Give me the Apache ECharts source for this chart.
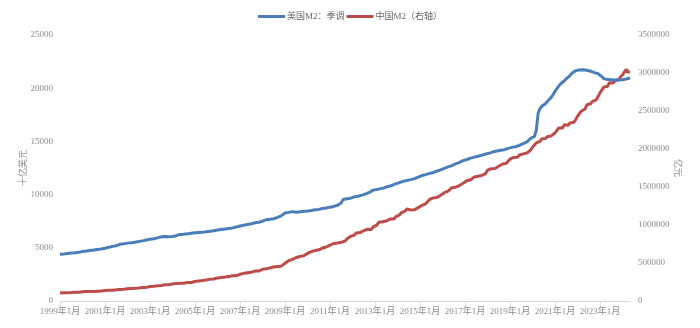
<!DOCTYPE html>
<html>
<head>
<meta charset="utf-8">
<script src="https://cdn.jsdelivr.net/npm/echarts@6/dist/echarts.min.js"></script>
<style>
  html, body { margin: 0; padding: 0; background: #fff; }
  #main { width: 700px; height: 328px; }
</style>
</head>
<body>
<div id="main"></div>
<script>
// 月份：1999年1月 - 2024年5月
var startYear = 1999, endYear = 2024, endMonth = 5;
var months = [];
for (var y = startYear; y <= endYear; y++) {
  for (var m = 1; m <= 12; m++) {
    if (y === endYear && m > endMonth) break;
    months.push(y + '年' + m + '月');
  }
}

// 美国M2：季调（十亿美元）
var usM2 = [
  4404, 4418, 4427, 4450, 4472, 4490, 4505, 4522, 4537, 4557, 4583, 4629,
  4650, 4668, 4695, 4740, 4745, 4765, 4785, 4810, 4845, 4860, 4880, 4915,
  4960, 4995, 5045, 5120, 5135, 5160, 5190, 5230, 5345, 5330, 5370, 5410,
  5440, 5470, 5480, 5500, 5525, 5550, 5590, 5630, 5650, 5690, 5735, 5760,
  5800, 5830, 5855, 5880, 5935, 5980, 6030, 6070, 6060, 6050, 6050, 6050,
  6070, 6100, 6140, 6200, 6260, 6260, 6270, 6290, 6310, 6330, 6360, 6390,
  6410, 6420, 6430, 6440, 6450, 6480, 6500, 6520, 6550, 6580, 6600, 6660,
  6680, 6700, 6720, 6750, 6760, 6790, 6820, 6850, 6870, 6910, 6950, 7010,
  7050, 7080, 7120, 7180, 7200, 7220, 7250, 7320, 7350, 7380, 7400, 7440,
  7500, 7580, 7640, 7680, 7690, 7700, 7730, 7740, 7860, 7960, 8000, 8180,
  8270, 8290, 8330, 8340, 8400, 8380, 8350, 8380, 8390, 8410, 8440, 8480,
  8460, 8500, 8510, 8500, 8580, 8600, 8610, 8640, 8690, 8720, 8740, 8790,
  8820, 8850, 8890, 8960, 9000, 9070, 9220, 9540, 9570, 9610, 9650, 9660,
  9750, 9790, 9810, 9850, 9900, 9950, 10000, 10060, 10100, 10200, 10300, 10420,
  10460, 10480, 10530, 10560, 10600, 10650, 10700, 10760, 10800, 10860, 10930, 11000,
  11040, 11130, 11190, 11240, 11270, 11330, 11370, 11410, 11460, 11500, 11560, 11640,
  11680, 11790, 11820, 11880, 11920, 11990, 12030, 12080, 12140, 12200, 12260, 12320,
  12390, 12460, 12540, 12600, 12650, 12730, 12800, 12880, 12960, 13020, 13100, 13190,
  13240, 13300, 13380, 13430, 13460, 13520, 13560, 13610, 13670, 13710, 13760, 13820,
  13860, 13900, 13960, 14020, 14060, 14090, 14120, 14170, 14200, 14220, 14250, 14340,
  14410, 14440, 14480, 14500, 14560, 14630, 14700, 14800, 14860, 14960, 15060, 15290,
  15410, 15460, 16020, 17640, 18080, 18300, 18380, 18560, 18770, 18950, 19140, 19410,
  19710, 19950, 20210, 20400, 20510, 20700, 20890, 21070, 21180, 21400, 21550, 21640,
  21680, 21720, 21760, 21730, 21700, 21680, 21640, 21600, 21530, 21460, 21390, 21360,
  21200, 21090, 20900, 20770, 20810, 20830, 20800, 20740, 20760, 20720, 20760, 20830,
  20800, 20840, 20870, 20900, 20960
];

// 中国M2（亿元，右轴）
var cnM2 = [
  106000, 107500, 108400, 109000, 110000, 111900, 111300, 113000, 114800, 114500, 116400, 119898,
  121000, 121500, 125000, 124000, 125200, 126600, 126000, 127700, 129600, 129200, 130600, 134610,
  138000, 137000, 140600, 141300, 142600, 147800, 147000, 148600, 151900, 151700, 153600, 158302,
  160100, 160000, 164100, 165200, 167700, 170900, 171400, 173200, 176700, 175600, 178800, 185007,
  190500, 190100, 194500, 196100, 199500, 204900, 204000, 208800, 213500, 210900, 214900, 221223,
  225100, 224600, 231700, 230600, 232700, 238400, 234800, 236900, 243800, 240700, 244000, 254107,
  256800, 256400, 264600, 266000, 270000, 275800, 276600, 281300, 287400, 285900, 289800, 298756,
  303600, 304500, 310500, 313700, 314600, 322800, 321000, 325700, 331900, 328800, 332700, 345578,
  351500, 358700, 364100, 367300, 371800, 377800, 378000, 387200, 393100, 386100, 393400, 403442,
  417800, 421000, 423100, 429300, 436200, 443100, 446400, 448800, 452900, 453100, 458600, 475167,
  496100, 506700, 530600, 540500, 548300, 568900, 572100, 576700, 585400, 586600, 594600, 610225,
  625600, 636100, 649900, 656600, 663400, 673900, 674100, 687500, 696500, 699800, 710300, 725852,
  733900, 736100, 758100, 757400, 763400, 780800, 772900, 780900, 787400, 816800, 825500, 851591,
  855900, 867200, 895600, 889600, 900000, 924500, 925400, 924900, 943700, 936400, 940000, 974149,
  992100, 998600, 1035900, 1032600, 1042200, 1054400, 1052200, 1061300, 1077400, 1070200, 1079300, 1106525,
  1123500, 1131800, 1160700, 1168800, 1182300, 1209600, 1194100, 1197400, 1202100, 1199200, 1208600, 1228375,
  1242700, 1259600, 1275300, 1279300, 1285800, 1333400, 1353200, 1356900, 1359800, 1361000, 1373900, 1392278,
  1416300, 1424800, 1446200, 1445200, 1461100, 1490500, 1491600, 1497500, 1516400, 1519500, 1530400, 1550067,
  1575900, 1582900, 1599600, 1596300, 1601400, 1631300, 1628900, 1641400, 1655700, 1653400, 1653900, 1676769,
  1721600, 1729900, 1739900, 1737700, 1743900, 1770200, 1772700, 1786800, 1801700, 1795600, 1811000, 1826744,
  1865900, 1867400, 1889400, 1884700, 1891500, 1921400, 1924400, 1935700, 1952200, 1946500, 1965300, 1986489,
  2023100, 2030800, 2080900, 2093500, 2100200, 2134900, 2125500, 2136800, 2164100, 2149700, 2172000, 2186796,
  2213000, 2236000, 2276200, 2262100, 2275500, 2317800, 2302200, 2311100, 2342800, 2330400, 2352900, 2382899,
  2431000, 2443000, 2497700, 2499700, 2527000, 2581500, 2578100, 2595100, 2626600, 2612900, 2647100, 2664320,
  2738100, 2755300, 2814600, 2807600, 2822900, 2873000, 2856800, 2868200, 2896600, 2882300, 2915800, 2922713,
  2976200, 2990900, 3047900, 3012000, 3016800
];

var seriesNames = ['美国M2：季调', '中国M2（右轴）'];
var leftName = '十亿美元';
var rightName = '亿元';

var fontFam = '"Liberation Serif", "Noto Sans CJK SC", serif';
var gray = '#8c8c8c';

function plain(v) { return String(v); }
// 每两年一月显示刻度与标签
function everyTwoYears(i) { return i % 24 === 0; }

var chart = echarts.init(document.getElementById('main'));
chart.setOption({
  animation: false,
  textStyle: { fontFamily: fontFam },
  color: ['#4a7ebb', '#be4b48'],
  legend: {
    top: 7,
    left: 'center',
    itemWidth: 27,
    itemHeight: 3,
    itemGap: 2,
    icon: 'rect',
    textStyle: { color: '#666', fontSize: 9, fontFamily: fontFam, padding: [0, 0, 0, -3] },
    data: seriesNames
  },
  grid: { left: 60, right: 70, top: 35, bottom: 27 },
  xAxis: {
    type: 'category',
    data: months,
    boundaryGap: false,
    axisLine: { lineStyle: { color: '#d9d9d9' } },
    axisTick: { interval: everyTwoYears, length: 4, lineStyle: { color: '#d9d9d9' } },
    axisLabel: { interval: everyTwoYears, color: gray, fontSize: 9, margin: 6, hideOverlap: false },
    splitLine: { show: false }
  },
  yAxis: [{
    type: 'value',
    min: 0, max: 25000, interval: 5000,
    name: leftName,
    nameLocation: 'middle',
    nameGap: 32,
    nameRotate: 90,
    nameMoveOverlap: false,
    nameTextStyle: { color: gray, fontSize: 9 },
    axisLine: { show: false },
    axisTick: { show: false },
    axisLabel: { color: gray, fontSize: 9, margin: 7, formatter: plain },
    splitLine: { show: false }
  }, {
    type: 'value',
    min: 0, max: 3500000, interval: 500000,
    name: rightName,
    nameLocation: 'middle',
    nameGap: 43,
    nameRotate: -90,
    nameMoveOverlap: false,
    nameTextStyle: { color: gray, fontSize: 9 },
    axisLine: { show: false },
    axisTick: { show: false },
    axisLabel: { color: gray, fontSize: 9, margin: 8, formatter: plain },
    splitLine: { show: false }
  }],
  series: [{
    name: seriesNames[0],
    type: 'line',
    yAxisIndex: 0,
    data: usM2,
    showSymbol: false,
    lineStyle: { width: 3 },
    z: 3
  }, {
    name: seriesNames[1],
    type: 'line',
    yAxisIndex: 1,
    data: cnM2,
    showSymbol: false,
    lineStyle: { width: 3 },
    z: 2
  }]
});
</script>
</body>
</html>
